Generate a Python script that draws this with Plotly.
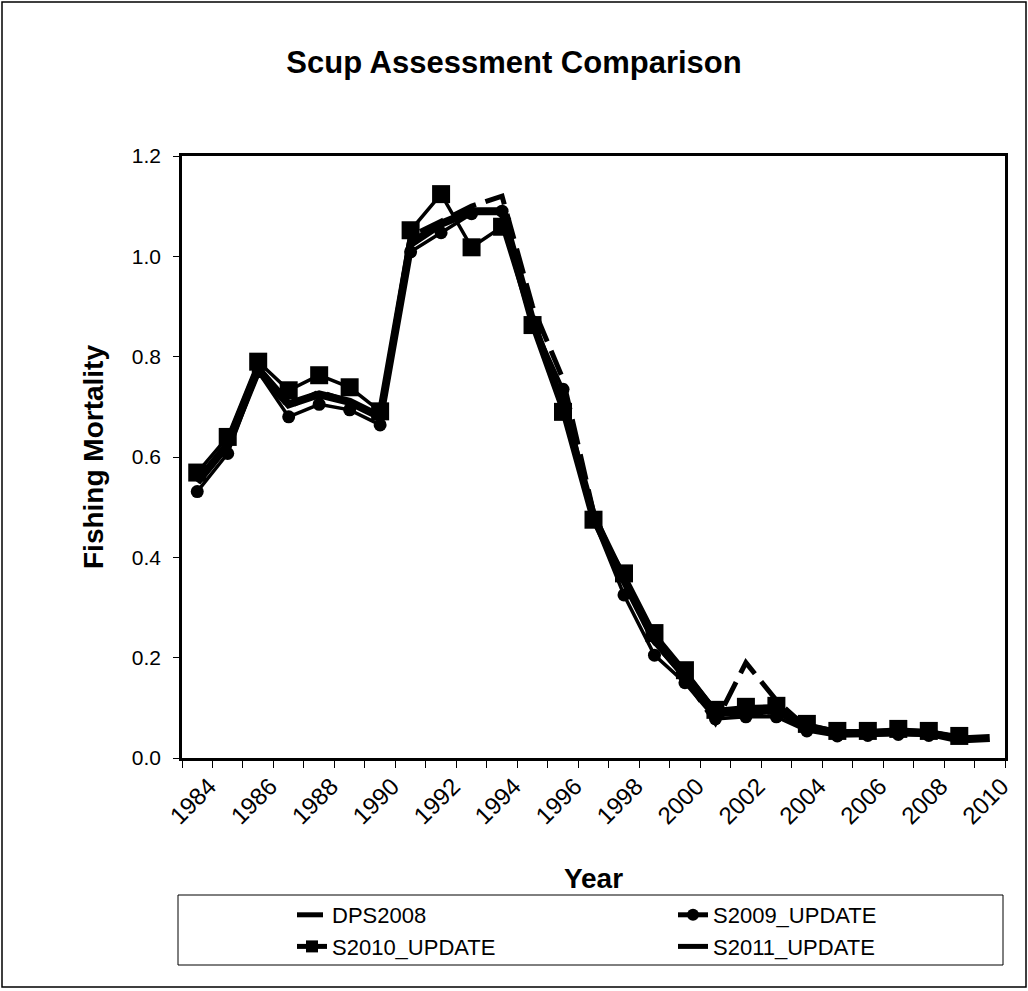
import plotly.graph_objects as go

# Fishing mortality by year for each assessment run
years = list(range(1984, 2011))

dps2008 = [0.55, 0.62, 0.77, 0.70, 0.73, 0.71, 0.68, 1.04, 1.07, 1.10, 1.12, 0.90,
           0.755, 0.49, 0.35, 0.23, 0.16, 0.07, 0.19, 0.115, 0.06, 0.05, 0.05, 0.05]

s2009_update = [0.531, 0.607, 0.77, 0.68, 0.705, 0.694, 0.664, 1.009, 1.047, 1.085,
                1.09, 0.87, 0.735, 0.475, 0.325, 0.205, 0.15, 0.078, 0.082, 0.082,
                0.054, 0.044, 0.045, 0.047, 0.045]

s2010_update = [0.569, 0.640, 0.790, 0.733, 0.763, 0.739, 0.691, 1.052, 1.124, 1.018,
                1.059, 0.863, 0.690, 0.475, 0.368, 0.249, 0.175, 0.096, 0.102, 0.104,
                0.068, 0.054, 0.054, 0.058, 0.054, 0.044]

s2011_update = [0.55, 0.625, 0.775, 0.705, 0.725, 0.71, 0.68, 1.025, 1.065, 1.09,
                1.09, 0.87, 0.70, 0.48, 0.355, 0.235, 0.165, 0.09, 0.092, 0.095,
                0.062, 0.05, 0.05, 0.052, 0.05, 0.037, 0.040]

year_labels = [str(y) for y in range(1984, 2011, 2)]

FONT = "Arial, Liberation Sans, sans-serif"
W, H = 1028, 991
L, R, T, B = 182, 23, 156, 233
PW, PH = W - L - R, H - T - B


def px_x(p):
    return (p - L) / PW


def px_y(p):
    return (H - B - p) / PH


fig = go.Figure()

fig.add_trace(go.Scatter(
    x=years[:len(dps2008)], y=dps2008, name="DPS2008", mode="lines",
    line=dict(color="black", width=5, dash="26px,10px"),
    legend="legend", legendgroup="a"))

fig.add_trace(go.Scatter(
    x=years[:len(s2009_update)], y=s2009_update, name="S2009_UPDATE",
    mode="lines+markers", line=dict(color="black", width=3.5),
    marker=dict(symbol="circle", size=13, color="black"),
    legend="legend2", legendgroup="b"))

fig.add_trace(go.Scatter(
    x=years[:len(s2010_update)], y=s2010_update, name="S2010_UPDATE",
    mode="lines+markers", line=dict(color="black", width=3.5),
    marker=dict(symbol="square", size=18, color="black"),
    legend="legend", legendgroup="c"))

fig.add_trace(go.Scatter(
    x=years[:len(s2011_update)], y=s2011_update, name="S2011_UPDATE",
    mode="lines", line=dict(color="black", width=8),
    legend="legend2", legendgroup="d"))

legend_common = dict(
    orientation="v", yanchor="top", xanchor="left",
    font=dict(family=FONT, size=22, color="black"),
    bgcolor="rgba(0,0,0,0)", borderwidth=0, tracegroupgap=0,
    itemsizing="constant",
)

fig.update_layout(
    width=W, height=H,
    margin=dict(l=L, r=R, t=T, b=B),
    paper_bgcolor="white", plot_bgcolor="white",
    title=dict(text="<b>Scup Assessment Comparison</b>", x=0.5, xanchor="center",
               y=1 - 62 / H, yanchor="middle",
               font=dict(family=FONT, size=31, color="black")),
    xaxis=dict(
        range=[1983.5, 2010.5], tickmode="array", tickvals=list(range(1984, 2011, 2)),
        ticktext=year_labels, tickangle=-45, ticks="", showgrid=False, zeroline=False,
        showline=True, linecolor="black", linewidth=2.5, mirror=True,
        ticklabelshift=12, ticklabelstandoff=2,
        tickfont=dict(family=FONT, size=24, color="black"),
        minor=dict(tick0=1983.5, dtick=1, ticks="outside", ticklen=7,
                   tickcolor="black", tickwidth=1, showgrid=False),
        title=dict(text="<b>Year</b>", standoff=41,
                   font=dict(family=FONT, size=28, color="black")),
    ),
    yaxis=dict(
        range=[0, 1.2], dtick=0.2, tickformat=".1f", ticks="outside", ticklen=6,
        tickcolor="black", showgrid=False, zeroline=False,
        showline=True, linecolor="black", linewidth=2.5, mirror=True,
        ticklabelstandoff=8,
        tickfont=dict(family=FONT, size=21, color="black"),
        title=dict(text="<b>Fishing Mortality</b>", standoff=21,
                   font=dict(family=FONT, size=28, color="black")),
    ),
    legend=dict(x=px_x(292), y=px_y(894), **legend_common),
    legend2=dict(x=px_x(673), y=px_y(894), **legend_common),
    showlegend=True,
    shapes=[
        # legend frame
        dict(type="rect", xref="paper", yref="paper",
             x0=px_x(178), x1=px_x(1003), y0=px_y(965), y1=px_y(895),
             line=dict(color="black", width=1), fillcolor="rgba(0,0,0,0)", layer="below"),
        # chart area frame
        dict(type="rect", xref="paper", yref="paper",
             x0=px_x(2), x1=px_x(1026), y0=px_y(987), y1=px_y(2),
             line=dict(color="black", width=1.5), fillcolor="rgba(0,0,0,0)", layer="below"),
    ],
)

fig.write_html("out.html")
